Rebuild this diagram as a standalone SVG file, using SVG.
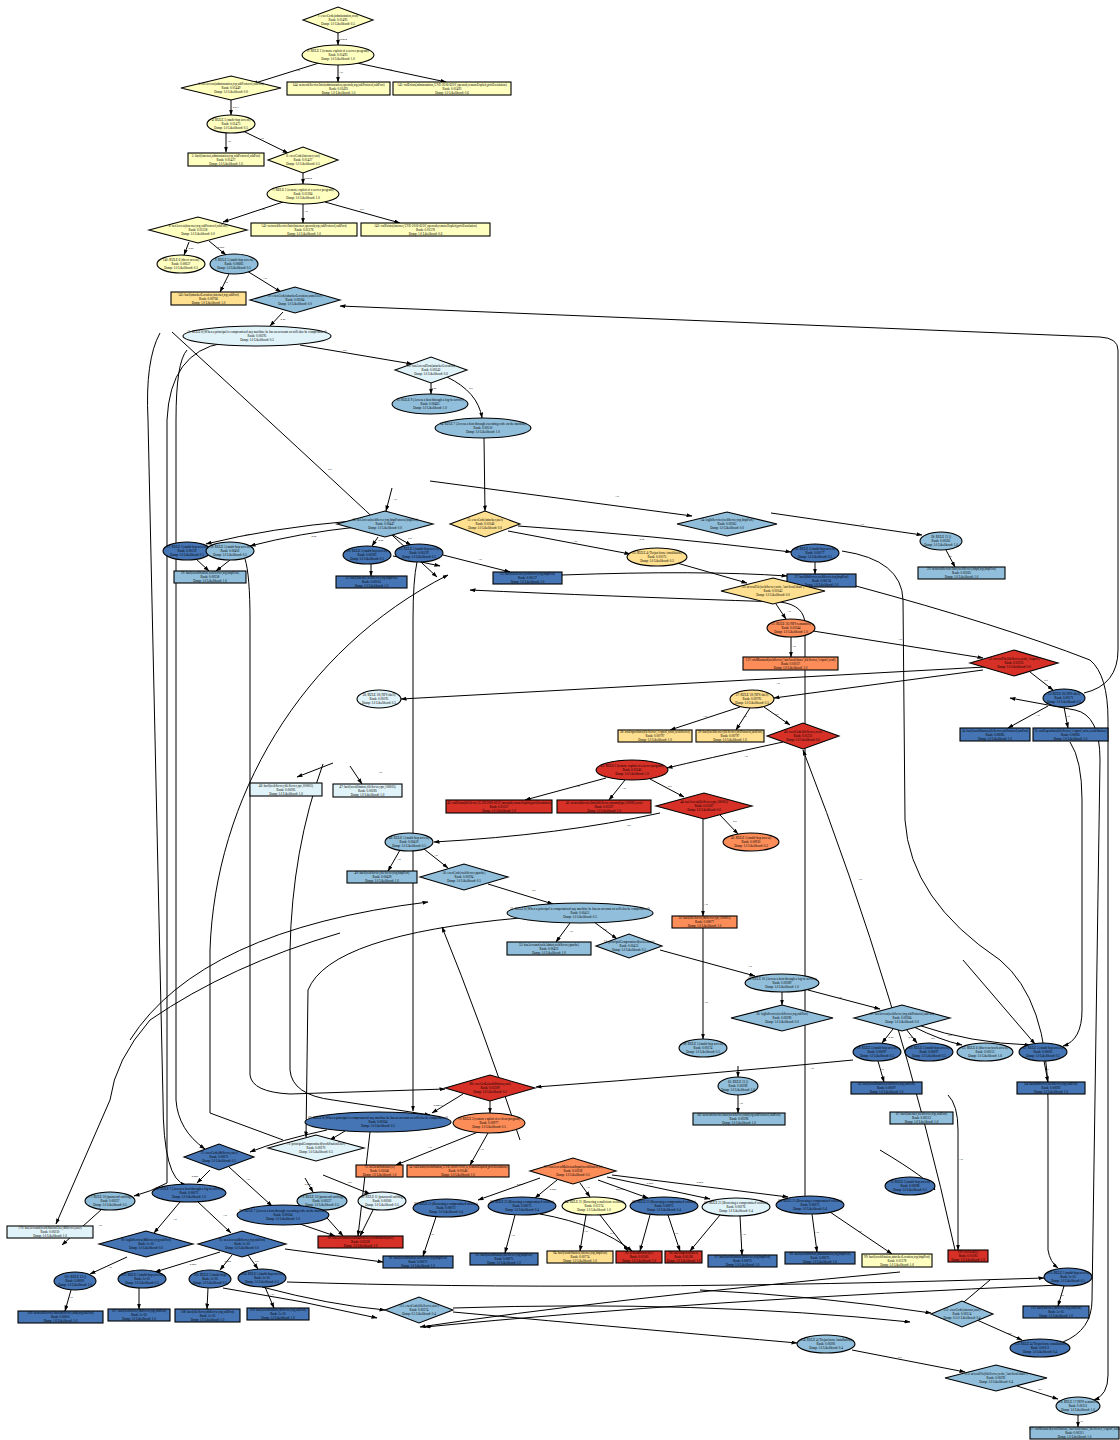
<svg xmlns="http://www.w3.org/2000/svg" width="1120" height="1440" viewBox="0 0 1120 1440">
<style>
text{font-family:"Liberation Serif","DejaVu Serif",serif;font-size:3.2px;text-anchor:middle;fill:#000}
.l{font-size:2.8px}
ellipse,rect,polygon{stroke:#000;stroke-width:1.1}
.y{fill:#ffffbf}.o{fill:#fee090}.or{fill:#fc8d59}.r{fill:#d73027}.p{fill:#e0f3f8}.m{fill:#91bfdb}.d{fill:#4575b4}
.e path{fill:none;stroke:#000;stroke-width:1}
.bg{fill:#fff;stroke:none}
</style>
<defs>
<marker id="a" markerWidth="6" markerHeight="4" refX="5.5" refY="2" orient="auto" markerUnits="userSpaceOnUse"><path d="M0,0 L6,2 L0,4 z" fill="#000"/></marker>
</defs>
<rect class="bg" width="1120" height="1440"/>
<g class="e" id="connectors">
<path d="M338,33 L338,45" marker-end="url(#a)"/>
<path d="M319,63 L252,84" marker-end="url(#a)"/>
<path d="M338,65 L338,82" marker-end="url(#a)"/>
<path d="M357,63 L446,82" marker-end="url(#a)"/>
<path d="M231,100 L231,115" marker-end="url(#a)"/>
<path d="M226,133 L226,152" marker-end="url(#a)"/>
<path d="M243,131 L288,153" marker-end="url(#a)"/>
<path d="M303,173 L303,184" marker-end="url(#a)"/>
<path d="M283,202 L223,222" marker-end="url(#a)"/>
<path d="M303,204 L303,223" marker-end="url(#a)"/>
<path d="M325,202 L400,223" marker-end="url(#a)"/>
<path d="M189,242 L184,255" marker-end="url(#a)"/>
<path d="M209,241 L226,255" marker-end="url(#a)"/>
<path d="M229,274 L220,292" marker-end="url(#a)"/>
<path d="M247,271 L281,292" marker-end="url(#a)"/>
<path d="M283,312 L270,326" marker-end="url(#a)"/>
<path d="M300,345 L412,364" marker-end="url(#a)"/>
<path d="M431,383 L431,394" marker-end="url(#a)"/>
<path d="M447,377 Q478,392 482,418" marker-end="url(#a)"/>
<path d="M484,438 L485,511" marker-end="url(#a)"/>
<path d="M1084,693 Q1118,685 1118,650 L1118,350 Q1118,338 1100,337 L340,306" marker-end="url(#a)"/>
<path d="M392,488 L386,511" marker-end="url(#a)"/>
<path d="M430,481 L692,516" marker-end="url(#a)"/>
<path d="M771,513 L922,535" marker-end="url(#a)"/>
<path d="M946,550 L955,567" marker-end="url(#a)"/>
<path d="M352,521 Q270,528 206,544" marker-end="url(#a)"/>
<path d="M357,527 Q300,533 250,546" marker-end="url(#a)"/>
<path d="M378,537 L372,546" marker-end="url(#a)"/>
<path d="M393,535 L411,545" marker-end="url(#a)"/>
<path d="M371,564 L371,576" marker-end="url(#a)"/>
<path d="M196,559 L209,571" marker-end="url(#a)"/>
<path d="M230,560 L216,571" marker-end="url(#a)"/>
<path d="M443,555 L510,572" marker-end="url(#a)"/>
<path d="M393,556 L440,566" marker-end="url(#a)"/>
<path d="M172,332 Q290,440 437,577" marker-end="url(#a)"/>
<path d="M518,526 Q650,535 791,552" marker-end="url(#a)"/>
<path d="M508,531 L630,554" marker-end="url(#a)"/>
<path d="M677,563 L747,583" marker-end="url(#a)"/>
<path d="M815,562 L815,574" marker-end="url(#a)"/>
<path d="M562,575 Q700,570 787,576" marker-end="url(#a)"/>
<path d="M856,586 Q1000,625 1090,660 Q1108,675 1108,720 L1108,1375 Q1108,1395 1094,1400" marker-end="url(#a)"/>
<path d="M805,1196 L805,625 Q805,605 780,602 Q600,596 470,590" marker-end="url(#a)"/>
<path d="M776,604 L786,619" marker-end="url(#a)"/>
<path d="M791,637 L791,657" marker-end="url(#a)"/>
<path d="M813,631 L983,658" marker-end="url(#a)"/>
<path d="M1030,672 L1053,690" marker-end="url(#a)"/>
<path d="M985,667 L401,699" marker-end="url(#a)"/>
<path d="M983,670 L774,698" marker-end="url(#a)"/>
<path d="M740,707 L670,730" marker-end="url(#a)"/>
<path d="M750,708 L736,730" marker-end="url(#a)"/>
<path d="M764,707 L790,725" marker-end="url(#a)"/>
<path d="M783,742 Q700,760 667,768" marker-end="url(#a)"/>
<path d="M606,778 L525,800" marker-end="url(#a)"/>
<path d="M625,780 L609,800" marker-end="url(#a)"/>
<path d="M650,779 L684,797" marker-end="url(#a)"/>
<path d="M720,815 L738,834" marker-end="url(#a)"/>
<path d="M703,819 L703,916" marker-end="url(#a)"/>
<path d="M660,813 Q560,835 434,842" marker-end="url(#a)"/>
<path d="M1048,706 L1008,728" marker-end="url(#a)"/>
<path d="M1064,707 L1068,728" marker-end="url(#a)"/>
<path d="M955,1250 Q900,1000 803,750" marker-end="url(#a)"/>
<path d="M400,850 L388,871" marker-end="url(#a)"/>
<path d="M424,849 L448,868" marker-end="url(#a)"/>
<path d="M488,884 L553,904" marker-end="url(#a)"/>
<path d="M570,923 L556,942" marker-end="url(#a)"/>
<path d="M594,922 L617,939" marker-end="url(#a)"/>
<path d="M660,950 L755,976" marker-end="url(#a)"/>
<path d="M782,992 L782,1005" marker-end="url(#a)"/>
<path d="M808,990 L880,1009" marker-end="url(#a)"/>
<path d="M893,1029 L882,1043" marker-end="url(#a)"/>
<path d="M906,1029 L917,1043" marker-end="url(#a)"/>
<path d="M914,1027 Q940,1040 962,1045" marker-end="url(#a)"/>
<path d="M918,1025 Q970,1043 1030,1045" marker-end="url(#a)"/>
<path d="M878,1061 L884,1082" marker-end="url(#a)"/>
<path d="M1044,1061 L1048,1082" marker-end="url(#a)"/>
<path d="M853,1060 Q700,1075 536,1087" marker-end="url(#a)"/>
<path d="M703,928 L703,1039" marker-end="url(#a)"/>
<path d="M738,1066 L738,1077" marker-end="url(#a)"/>
<path d="M738,1095 L738,1113" marker-end="url(#a)"/>
<path d="M963,960 L1035,1044" marker-end="url(#a)"/>
<path d="M1070,742 Q1082,760 1082,800 L1082,1010 Q1082,1040 1063,1046" marker-end="url(#a)"/>
<path d="M842,551 Q902,560 903,600 L905,820 Q910,900 1000,960 Q1048,1000 1048,1100 L1048,1250 Q1050,1262 1058,1268" marker-end="url(#a)"/>
<path d="M1063,1342 Q1092,1330 1092,1300 L1100,760 Q1100,715 1075,710 L1010,698" marker-end="url(#a)"/>
<path d="M160,333 Q145,360 148,420 L163,1100 Q163,1180 186,1185" marker-end="url(#a)"/>
<path d="M223,343 Q170,352 167,420 L167,1183 Q150,1192 134,1196" marker-end="url(#a)"/>
<path d="M187,350 Q176,362 176,420 L176,1100 Q178,1130 205,1149" marker-end="url(#a)"/>
<path d="M283,1140 L210,1113 L210,950 C215,800 300,650 448,575" marker-end="url(#a)"/>
<path d="M245,559 Q250,575 250,620 L250,1075 Q252,1092 290,1094 L445,1089" marker-end="url(#a)"/>
<path d="M323,764 Q292,850 290,950 L290,1070 Q292,1095 333,1100 L430,1115" marker-end="url(#a)"/>
<path d="M333,763 L297,777" marker-end="url(#a)"/>
<path d="M350,766 L362,784" marker-end="url(#a)"/>
<path d="M417,562 Q413,580 413,620 L413,1111" marker-end="url(#a)"/>
<path d="M340,933 Q230,965 150,1020 Q115,1060 110,1100 L56,1224" marker-end="url(#a)"/>
<path d="M130,1040 Q200,930 428,902" marker-end="url(#a)"/>
<path d="M520,918 Q330,935 308,990 L306,1137" marker-end="url(#a)"/>
<path d="M520,1140 Q480,1020 442,927" marker-end="url(#a)"/>
<path d="M210,1170 L197,1183" marker-end="url(#a)"/>
<path d="M229,1167 L272,1206" marker-end="url(#a)"/>
<path d="M180,1202 L154,1233" marker-end="url(#a)"/>
<path d="M198,1202 L231,1233" marker-end="url(#a)"/>
<path d="M220,1252 L155,1272" marker-end="url(#a)"/>
<path d="M232,1255 L220,1270" marker-end="url(#a)"/>
<path d="M248,1255 L258,1269" marker-end="url(#a)"/>
<path d="M127,1257 L90,1274" marker-end="url(#a)"/>
<path d="M71,1290 L65,1311" marker-end="url(#a)"/>
<path d="M139,1288 L139,1309" marker-end="url(#a)"/>
<path d="M208,1288 L207,1309" marker-end="url(#a)"/>
<path d="M265,1287 L274,1308" marker-end="url(#a)"/>
<path d="M223,1288 Q300,1300 377,1318" marker-end="url(#a)"/>
<path d="M287,1282 Q600,1292 1044,1278" marker-end="url(#a)"/>
<path d="M285,1249 L383,1262" marker-end="url(#a)"/>
<path d="M327,1130 Q280,1140 250,1152" marker-end="url(#a)"/>
<path d="M305,1178 L313,1192" marker-end="url(#a)"/>
<path d="M323,1175 L370,1194" marker-end="url(#a)"/>
<path d="M320,1210 L343,1236" marker-end="url(#a)"/>
<path d="M373,1210 L360,1236" marker-end="url(#a)"/>
<path d="M370,1132 L358,1236" marker-end="url(#a)"/>
<path d="M102,1209 L62,1245" marker-end="url(#a)"/>
<path d="M436,1217 L423,1256" marker-end="url(#a)"/>
<path d="M540,1178 L478,1200" marker-end="url(#a)"/>
<path d="M557,1180 L535,1198" marker-end="url(#a)"/>
<path d="M580,1183 L590,1197" marker-end="url(#a)"/>
<path d="M598,1180 L648,1198" marker-end="url(#a)"/>
<path d="M607,1177 L710,1199" marker-end="url(#a)"/>
<path d="M612,1175 L788,1197" marker-end="url(#a)"/>
<path d="M515,1215 L505,1253" marker-end="url(#a)"/>
<path d="M586,1215 L580,1251" marker-end="url(#a)"/>
<path d="M600,1215 L628,1251" marker-end="url(#a)"/>
<path d="M540,1214 Q600,1225 632,1251" marker-end="url(#a)"/>
<path d="M650,1215 L640,1251" marker-end="url(#a)"/>
<path d="M668,1215 L680,1251" marker-end="url(#a)"/>
<path d="M720,1215 L690,1251" marker-end="url(#a)"/>
<path d="M740,1216 L742,1255" marker-end="url(#a)"/>
<path d="M812,1214 L817,1252" marker-end="url(#a)"/>
<path d="M830,1212 L892,1254" marker-end="url(#a)"/>
<path d="M948,1095 Q958,1105 958,1130 L958,1250" marker-end="url(#a)"/>
<path d="M478,1132 L396,1165" marker-end="url(#a)"/>
<path d="M488,1133 L470,1165" marker-end="url(#a)"/>
<path d="M490,1101 L490,1113" marker-end="url(#a)"/>
<path d="M463,1094 L432,1113" marker-end="url(#a)"/>
<path d="M345,1131 L330,1140" marker-end="url(#a)"/>
<path d="M300,1224 L335,1236" marker-end="url(#a)"/>
<path d="M262,1287 Q330,1305 385,1310" marker-end="url(#a)"/>
<path d="M1060,1285 Q700,1300 425,1327" marker-end="url(#a)"/>
<path d="M900,1272 Q600,1300 420,1327" marker-end="url(#a)"/>
<path d="M453,1312 Q650,1330 797,1343" marker-end="url(#a)"/>
<path d="M453,1308 Q700,1300 910,1322" marker-end="url(#a)"/>
<path d="M700,1290 Q820,1296 931,1313" marker-end="url(#a)"/>
<path d="M990,1280 L952,1312" marker-end="url(#a)"/>
<path d="M977,1320 L1022,1340" marker-end="url(#a)"/>
<path d="M852,1350 L965,1372" marker-end="url(#a)"/>
<path d="M1017,1386 L1058,1399" marker-end="url(#a)"/>
<path d="M1078,1415 L1078,1427" marker-end="url(#a)"/>
<path d="M1064,1286 L1058,1306" marker-end="url(#a)"/>
<path d="M880,1150 Q930,1180 935,1190" marker-end="url(#a)"/>
</g>
<g id="edge-labels">
<text class="l" x="343" y="40">0.0094</text><text class="l" x="298" y="71">1.0</text><text class="l" x="341" y="73">1.0</text><text class="l" x="390" y="70">0.5</text>
<text class="l" x="236" y="108">0.013</text><text class="l" x="229" y="142">1.0</text><text class="l" x="262" y="139">1.0</text><text class="l" x="308" y="179">0.0094</text>
<text class="l" x="263" y="210">1.0</text><text class="l" x="306" y="212">1.0</text><text class="l" x="362" y="210">0.5</text><text class="l" x="191" y="249">0.05</text>
<text class="l" x="221" y="248">0.025</text><text class="l" x="226" y="283">1.0</text><text class="l" x="265" y="279">1.0</text><text class="l" x="283" y="320">0.05</text>
<text class="l" x="345" y="351">0.5</text><text class="l" x="434" y="389">0.05</text><text class="l" x="471" y="389">0.5</text>
<text class="l" x="395" y="500">1.0</text><text class="l" x="617" y="497">1.0</text><text class="l" x="862" y="525">1.0</text><text class="l" x="950" y="557">1.0</text>
<text class="l" x="248" y="535">0.05</text><text class="l" x="314" y="537">0.05</text><text class="l" x="381" y="541">0.05</text><text class="l" x="410" y="539">0.5</text>
<text class="l" x="480" y="560">1.0</text><text class="l" x="330" y="470">0.5</text><text class="l" x="642" y="540">0.05</text><text class="l" x="575" y="542">1.0</text>
<text class="l" x="712" y="573">1.0</text><text class="l" x="789" y="612">1.0</text><text class="l" x="794" y="647">1.0</text><text class="l" x="900" y="640">1.0</text>
<text class="l" x="1046" y="681">0.5</text><text class="l" x="778" y="684">1.0</text><text class="l" x="705" y="717">1.0</text><text class="l" x="745" y="717">1.0</text>
<text class="l" x="777" y="715">0.5</text><text class="l" x="746" y="757">1.0</text><text class="l" x="578" y="787">1.0</text><text class="l" x="624" y="789">1.0</text>
<text class="l" x="670" y="787">0.5</text><text class="l" x="735" y="822">0.5</text><text class="l" x="706" y="905">1.0</text><text class="l" x="629" y="826">0.5</text>
<text class="l" x="1038" y="716">1.0</text><text class="l" x="1068" y="717">1.0</text><text class="l" x="860" y="880">1.0</text><text class="l" x="399" y="860">1.0</text>
<text class="l" x="436" y="856">1.0</text><text class="l" x="534" y="891">0.5</text><text class="l" x="571" y="932">1.0</text><text class="l" x="605" y="930">0.5</text>
<text class="l" x="750" y="967">1.0</text><text class="l" x="840" y="998">1.0</text><text class="l" x="891" y="1038">0.05</text><text class="l" x="911" y="1038">0.05</text>
<text class="l" x="933" y="1039">0.5</text><text class="l" x="950" y="1036">0.5</text><text class="l" x="882" y="1070">1.0</text><text class="l" x="1047" y="1070">1.0</text>
<text class="l" x="812" y="1069">1.0</text><text class="l" x="706" y="1003">1.0</text><text class="l" x="741" y="1104">1.0</text><text class="l" x="380" y="773">1.0</text>
<text class="l" x="195" y="1177">0.005</text><text class="l" x="248" y="1180">1.0</text><text class="l" x="175" y="1220">1.0</text><text class="l" x="225" y="1216">1.0</text>
<text class="l" x="193" y="1265">0.005</text><text class="l" x="228" y="1262">0.005</text><text class="l" x="257" y="1262">0.5</text><text class="l" x="110" y="1268">1.0</text>
<text class="l" x="71" y="1298">1.0</text><text class="l" x="272" y="1295">1.0</text><text class="l" x="308" y="1185">0.005</text><text class="l" x="350" y="1183">0.5</text>
<text class="l" x="100" y="1226">1.0</text><text class="l" x="432" y="1235">1.0</text><text class="l" x="520" y="1185">0.005</text><text class="l" x="553" y="1190">0.005</text>
<text class="l" x="588" y="1188">1.0</text><text class="l" x="620" y="1190">0.0375</text><text class="l" x="650" y="1184">0.005</text><text class="l" x="700" y="1183">0.005</text>
<text class="l" x="513" y="1236">1.0</text><text class="l" x="586" y="1232">1.0</text><text class="l" x="612" y="1234">0.5</text><text class="l" x="676" y="1234">1.0</text>
<text class="l" x="744" y="1235">1.0</text><text class="l" x="817" y="1233">1.0</text><text class="l" x="860" y="1232">0.5</text><text class="l" x="961" y="1160">1.0</text>
<text class="l" x="430" y="1148">1.0</text><text class="l" x="482" y="1150">1.0</text><text class="l" x="438" y="1106">0.00076</text><text class="l" x="1010" y="1334">0.5</text>
<text class="l" x="900" y="1358">0.5</text><text class="l" x="1040" y="1390">0.5</text><text class="l" x="1081" y="1422">1.0</text><text class="l" x="1062" y="1296">1.0</text>
</g>
<g id="n1"><polygon class="y" points="303,20 338,7 373,20 338,33"/><text x="338" y="17"><tspan x="338">1: execCode(adminstation,root)</tspan><tspan x="338" dy="4">Rank: 0.01493</tspan><tspan x="338" dy="4">Dsmp: 1.0 Likelihood: 0.5</tspan></text></g>
<g id="n2"><ellipse class="y" cx="338" cy="55" rx="36" ry="10"/><text x="338" y="52"><tspan x="338">2: RULE 2 (remote exploit of a server program)</tspan><tspan x="338" dy="4">Rank: 0.01493</tspan><tspan x="338" dy="4">Dsmp: 1.0 Likelihood: 1.0</tspan></text></g>
<g id="n3"><polygon class="y" points="181,88 231,76 281,88 231,100"/><text x="231" y="85"><tspan x="231">3: netAccess(adminstation,tcp,sshProtocol,sshPort)</tspan><tspan x="231" dy="4">Rank: 0.01449</tspan><tspan x="231" dy="4">Dsmp: 1.0 Likelihood: 0.0</tspan></text></g>
<g id="n4"><rect class="y" x="287" y="82" width="103" height="13"/><text x="338.5" y="85.5"><tspan x="338.5">144: networkServiceInfo(adminstation,openssh,tcp,sshProtocol,sshPort)</tspan><tspan x="338.5" dy="4">Rank: 0.01493</tspan><tspan x="338.5" dy="4">Dsmp: 1.0 Likelihood: 1.0</tspan></text></g>
<g id="n5"><rect class="y" x="393" y="82" width="118" height="13"/><text x="452" y="85.5"><tspan x="452">145: vulExists(adminstation,'CVE-2016-6210',openssh,remoteExploit,privEscalation)</tspan><tspan x="452" dy="4">Rank: 0.01493</tspan><tspan x="452" dy="4">Dsmp: 1.0 Likelihood: 0.6</tspan></text></g>
<g id="n6"><ellipse class="y" cx="231" cy="124" rx="24" ry="9"/><text x="231" y="121"><tspan x="231">4: RULE 5 (multi-hop access)</tspan><tspan x="231" dy="4">Rank: 0.01473</tspan><tspan x="231" dy="4">Dsmp: 1.0 Likelihood: 0.5</tspan></text></g>
<g id="n7"><rect class="y" x="188" y="153" width="76" height="13"/><text x="226" y="156.5"><tspan x="226">5: hacl(internet,adminstation,tcp,sshProtocol,sshPort)</tspan><tspan x="226" dy="4">Rank: 0.01427</tspan><tspan x="226" dy="4">Dsmp: 1.0 Likelihood: 1.0</tspan></text></g>
<g id="n8"><polygon class="y" points="268,160 303,147 338,160 303,173"/><text x="303" y="157"><tspan x="303">6: execCode(internet,root)</tspan><tspan x="303" dy="4">Rank: 0.01427</tspan><tspan x="303" dy="4">Dsmp: 1.0 Likelihood: 0.5</tspan></text></g>
<g id="n9"><ellipse class="y" cx="303" cy="194" rx="36" ry="10"/><text x="303" y="191"><tspan x="303">7: RULE 2 (remote exploit of a server program)</tspan><tspan x="303" dy="4">Rank: 0.01384</tspan><tspan x="303" dy="4">Dsmp: 1.0 Likelihood: 1.0</tspan></text></g>
<g id="n10"><polygon class="y" points="149,230 198,217 247,230 198,243"/><text x="198" y="227"><tspan x="198">8: netAccess(internet,tcp,sshProtocol,sshPort)</tspan><tspan x="198" dy="4">Rank: 0.01358</tspan><tspan x="198" dy="4">Dsmp: 1.0 Likelihood: 0.0</tspan></text></g>
<g id="n11"><rect class="y" x="251" y="223" width="106" height="13"/><text x="304" y="226.5"><tspan x="304">142: networkServiceInfo(internet,openssh,tcp,sshProtocol,sshPort)</tspan><tspan x="304" dy="4">Rank: 0.01378</tspan><tspan x="304" dy="4">Dsmp: 1.0 Likelihood: 1.0</tspan></text></g>
<g id="n12"><rect class="y" x="361" y="223" width="129" height="13"/><text x="425.5" y="226.5"><tspan x="425.5">143: vulExists(internet,'CVE-2016-6210',openssh,remoteExploit,privEscalation)</tspan><tspan x="425.5" dy="4">Rank: 0.01378</tspan><tspan x="425.5" dy="4">Dsmp: 1.0 Likelihood: 0.6</tspan></text></g>
<g id="n13"><ellipse class="y" cx="181" cy="264" rx="24" ry="9"/><text x="181" y="261"><tspan x="181">140: RULE 6 (direct access)</tspan><tspan x="181" dy="4">Rank: 0.00637</tspan><tspan x="181" dy="4">Dsmp: 1.0 Likelihood: 0.5</tspan></text></g>
<g id="n14"><ellipse class="m" cx="234" cy="264" rx="24" ry="10"/><text x="234" y="261"><tspan x="234">9: RULE 5 (multi-hop access)</tspan><tspan x="234" dy="4">Rank: 0.00683</tspan><tspan x="234" dy="4">Dsmp: 1.0 Likelihood: 0.5</tspan></text></g>
<g id="n15"><rect class="o" x="171" y="292" width="75" height="13"/><text x="208.5" y="295.5"><tspan x="208.5">141: hacl(attackerLocation,internet,tcp,sshPort)</tspan><tspan x="208.5" dy="4">Rank: 0.00766</tspan><tspan x="208.5" dy="4">Dsmp: 1.0 Likelihood: 1.0</tspan></text></g>
<g id="n16"><polygon class="m" points="250,300 295,287 340,300 295,313"/><text x="295" y="297"><tspan x="295">10: execCode(attackerLocation,someUser)</tspan><tspan x="295" dy="4">Rank: 0.00584</tspan><tspan x="295" dy="4">Dsmp: 1.0 Likelihood: 0.0</tspan></text></g>
<g id="n17"><ellipse class="p" cx="257" cy="336" rx="74" ry="10"/><text x="257" y="333"><tspan x="257">11: RULE 8 (When a principal is compromised any machine he has an account on will also be compromised)</tspan><tspan x="257" dy="4">Rank: 0.00295</tspan><tspan x="257" dy="4">Dsmp: 1.0 Likelihood: 0.5</tspan></text></g>
<g id="n18"><polygon class="p" points="395,370 431,357 467,370 431,383"/><text x="431" y="367"><tspan x="431">12: canAccessHost(attackerLocation)</tspan><tspan x="431" dy="4">Rank: 0.00242</tspan><tspan x="431" dy="4">Dsmp: 1.0 Likelihood: 0.0</tspan></text></g>
<g id="n19"><ellipse class="m" cx="430" cy="404" rx="38" ry="10"/><text x="430" y="401"><tspan x="430">13: RULE 9 (Access a host through a log-in service)</tspan><tspan x="430" dy="4">Rank: 0.00463</tspan><tspan x="430" dy="4">Dsmp: 1.0 Likelihood: 1.0</tspan></text></g>
<g id="n20"><ellipse class="m" cx="483" cy="428" rx="48" ry="10"/><text x="483" y="425"><tspan x="483">14: RULE 7 (Access a host through executing code on the machine)</tspan><tspan x="483" dy="4">Rank: 0.00510</tspan><tspan x="483" dy="4">Dsmp: 1.0 Likelihood: 1.0</tspan></text></g>
<g id="n21"><polygon class="o" points="450,524 485,511 520,524 485,537"/><text x="485" y="521"><tspan x="485">15: execCode(attacker,user)</tspan><tspan x="485" dy="4">Rank: 0.01046</tspan><tspan x="485" dy="4">Dsmp: 1.0 Likelihood: 0.0</tspan></text></g>
<g id="n22"><polygon class="m" points="337,524 385,511 433,524 385,537"/><text x="385" y="521"><tspan x="385">16: netAccess(webServer,tcp,httpProtocol,httpPort)</tspan><tspan x="385" dy="4">Rank: 0.00447</tspan><tspan x="385" dy="4">Dsmp: 1.0 Likelihood: 0.0</tspan></text></g>
<g id="n23"><ellipse class="d" cx="187" cy="551" rx="24" ry="9"/><text x="187" y="548"><tspan x="187">17: RULE 5 (multi-hop access)</tspan><tspan x="187" dy="4">Rank: 0.00159</tspan><tspan x="187" dy="4">Dsmp: 1.0 Likelihood: 0.5</tspan></text></g>
<g id="n24"><ellipse class="m" cx="230" cy="551" rx="24" ry="9"/><text x="230" y="548"><tspan x="230">18: RULE 5 (multi-hop access)</tspan><tspan x="230" dy="4">Rank: 0.00450</tspan><tspan x="230" dy="4">Dsmp: 1.0 Likelihood: 0.5</tspan></text></g>
<g id="n25"><rect class="m" x="174" y="571" width="72" height="12"/><text x="210" y="574"><tspan x="210">19: hacl(workStation,webServer,tcp,httpPort)</tspan><tspan x="210" dy="4">Rank: 0.00358</tspan><tspan x="210" dy="4">Dsmp: 1.0 Likelihood: 1.0</tspan></text></g>
<g id="n26"><ellipse class="d" cx="367" cy="555" rx="24" ry="9"/><text x="367" y="552"><tspan x="367">20: RULE 5 (multi-hop access)</tspan><tspan x="367" dy="4">Rank: 0.00183</tspan><tspan x="367" dy="4">Dsmp: 1.0 Likelihood: 0.5</tspan></text></g>
<g id="n27"><ellipse class="d" cx="419" cy="553" rx="24" ry="9"/><text x="419" y="550"><tspan x="419">21: RULE 5 (multi-hop access)</tspan><tspan x="419" dy="4">Rank: 0.00159</tspan><tspan x="419" dy="4">Dsmp: 1.0 Likelihood: 0.5</tspan></text></g>
<g id="n28"><rect class="d" x="336" y="576" width="71" height="12"/><text x="371.5" y="579"><tspan x="371.5">22: hacl(internet,webServer,tcp,httpPort)</tspan><tspan x="371.5" dy="4">Rank: 0.00163</tspan><tspan x="371.5" dy="4">Dsmp: 1.0 Likelihood: 1.0</tspan></text></g>
<g id="n29"><rect class="d" x="493" y="572" width="69" height="12"/><text x="527.5" y="575"><tspan x="527.5">23: hacl(fileServer,webServer,tcp,httpPort)</tspan><tspan x="527.5" dy="4">Rank: 0.00137</tspan><tspan x="527.5" dy="4">Dsmp: 1.0 Likelihood: 1.0</tspan></text></g>
<g id="n30"><polygon class="m" points="677,524 727,512 777,524 727,536"/><text x="727" y="521"><tspan x="727">24: logInService(webServer,tcp,httpPort)</tspan><tspan x="727" dy="4">Rank: 0.00365</tspan><tspan x="727" dy="4">Dsmp: 1.0 Likelihood: 0.0</tspan></text></g>
<g id="n31"><ellipse class="o" cx="657" cy="557" rx="30" ry="9"/><text x="657" y="554"><tspan x="657">25: RULE 4 (Trojan horse installation)</tspan><tspan x="657" dy="4">Rank: 0.01075</tspan><tspan x="657" dy="4">Dsmp: 1.0 Likelihood: 0.5</tspan></text></g>
<g id="n32"><ellipse class="d" cx="815" cy="553" rx="24" ry="9"/><text x="815" y="550"><tspan x="815">26: RULE 5 (multi-hop access)</tspan><tspan x="815" dy="4">Rank: 0.00177</tspan><tspan x="815" dy="4">Dsmp: 1.0 Likelihood: 0.5</tspan></text></g>
<g id="n33"><rect class="d" x="787" y="574" width="69" height="13"/><text x="821.5" y="577.5"><tspan x="821.5">27: hacl(dbServer,webServer,tcp,httpPort)</tspan><tspan x="821.5" dy="4">Rank: 0.00174</tspan><tspan x="821.5" dy="4">Dsmp: 1.0 Likelihood: 1.0</tspan></text></g>
<g id="n34"><ellipse class="m" cx="941" cy="541" rx="21" ry="9"/><text x="941" y="538"><tspan x="941">28: RULE 13 ()</tspan><tspan x="941" dy="4">Rank: 0.00365</tspan><tspan x="941" dy="4">Dsmp: 1.0 Likelihood: 1.0</tspan></text></g>
<g id="n35"><rect class="m" x="918" y="567" width="87" height="12"/><text x="961.5" y="570"><tspan x="961.5">29: networkServiceInfo(webServer,httpd,tcp,httpPort)</tspan><tspan x="961.5" dy="4">Rank: 0.00365</tspan><tspan x="961.5" dy="4">Dsmp: 1.0 Likelihood: 1.0</tspan></text></g>
<g id="n36"><polygon class="o" points="721,591 773,578 825,591 773,604"/><text x="773" y="588"><tspan x="773">30: accessFile(webServer,write,'/usr/local/share')</tspan><tspan x="773" dy="4">Rank: 0.01045</tspan><tspan x="773" dy="4">Dsmp: 1.0 Likelihood: 0.0</tspan></text></g>
<g id="n37"><ellipse class="or" cx="791" cy="628" rx="24" ry="9"/><text x="791" y="625"><tspan x="791">31: RULE 16 (NFS semantics)</tspan><tspan x="791" dy="4">Rank: 0.01044</tspan><tspan x="791" dy="4">Dsmp: 1.0 Likelihood: 1.0</tspan></text></g>
<g id="n38"><rect class="or" x="743" y="657" width="95" height="13"/><text x="790.5" y="660.5"><tspan x="790.5">137: nfsMounted(webServer,'/usr/local/share',fileServer,'/export',read)</tspan><tspan x="790.5" dy="4">Rank: 0.01037</tspan><tspan x="790.5" dy="4">Dsmp: 1.0 Likelihood: 1.0</tspan></text></g>
<g id="n39"><polygon class="r" points="970,663 1014,650 1058,663 1014,676"/><text x="1014" y="660"><tspan x="1014">32: accessFile(fileServer,write,'/export')</tspan><tspan x="1014" dy="4">Rank: 0.01253</tspan><tspan x="1014" dy="4">Dsmp: 1.0 Likelihood: 0.0</tspan></text></g>
<g id="n40"><ellipse class="d" cx="1064" cy="698" rx="21" ry="9"/><text x="1064" y="695"><tspan x="1064">33: RULE 18 (NFS shell)</tspan><tspan x="1064" dy="4">Rank: 0.00171</tspan><tspan x="1064" dy="4">Dsmp: 1.0 Likelihood: 0.5</tspan></text></g>
<g id="n41"><rect class="d" x="960" y="728" width="70" height="13"/><text x="995" y="731.5"><tspan x="995">34: hacl(workStation,fileServer,nfsProtocol,nfsPort)</tspan><tspan x="995" dy="4">Rank: 0.00085</tspan><tspan x="995" dy="4">Dsmp: 1.0 Likelihood: 1.0</tspan></text></g>
<g id="n42"><rect class="d" x="1033" y="728" width="75" height="13"/><text x="1070.5" y="731.5"><tspan x="1070.5">35: nfsExportInfo(fileServer,'/export',write,workStation)</tspan><tspan x="1070.5" dy="4">Rank: 0.00085</tspan><tspan x="1070.5" dy="4">Dsmp: 1.0 Likelihood: 1.0</tspan></text></g>
<g id="n43"><ellipse class="p" cx="379" cy="699" rx="22" ry="9"/><text x="379" y="696"><tspan x="379">36: RULE 18 (NFS shell)</tspan><tspan x="379" dy="4">Rank: 0.00295</tspan><tspan x="379" dy="4">Dsmp: 1.0 Likelihood: 0.5</tspan></text></g>
<g id="n44"><ellipse class="o" cx="752" cy="699" rx="22" ry="9"/><text x="752" y="696"><tspan x="752">37: RULE 18 (NFS shell)</tspan><tspan x="752" dy="4">Rank: 0.00795</tspan><tspan x="752" dy="4">Dsmp: 1.0 Likelihood: 0.5</tspan></text></g>
<g id="n45"><rect class="o" x="618" y="730" width="74" height="12"/><text x="655" y="733"><tspan x="655">38: nfsExportInfo(fileServer,'/export',write,webServer)</tspan><tspan x="655" dy="4">Rank: 0.00797</tspan><tspan x="655" dy="4">Dsmp: 1.0 Likelihood: 1.0</tspan></text></g>
<g id="n46"><rect class="o" x="696" y="730" width="68" height="12"/><text x="730" y="733"><tspan x="730">39: hacl(webServer,fileServer,nfsProtocol,nfsPort)</tspan><tspan x="730" dy="4">Rank: 0.00797</tspan><tspan x="730" dy="4">Dsmp: 1.0 Likelihood: 1.0</tspan></text></g>
<g id="n47"><polygon class="r" points="767,736 803,723 839,736 803,749"/><text x="803" y="733"><tspan x="803">40: execCode(fileServer,root)</tspan><tspan x="803" dy="4">Rank: 0.01251</tspan><tspan x="803" dy="4">Dsmp: 1.0 Likelihood: 0.0</tspan></text></g>
<g id="n48"><ellipse class="r" cx="632" cy="770" rx="36" ry="10"/><text x="632" y="767"><tspan x="632">41: RULE 2 (remote exploit of a server program)</tspan><tspan x="632" dy="4">Rank: 0.01245</tspan><tspan x="632" dy="4">Dsmp: 1.0 Likelihood: 1.0</tspan></text></g>
<g id="n49"><rect class="r" x="446" y="800" width="106" height="13"/><text x="499" y="803.5"><tspan x="499">42: vulExists(fileServer,'CAN-2003-0252',mountd,remoteExploit,privEscalation)</tspan><tspan x="499" dy="4">Rank: 0.01327</tspan><tspan x="499" dy="4">Dsmp: 1.0 Likelihood: 1.0</tspan></text></g>
<g id="n50"><rect class="r" x="557" y="800" width="94" height="13"/><text x="604" y="803.5"><tspan x="604">43: networkServiceInfo(fileServer,mountd,rpc,100005,root)</tspan><tspan x="604" dy="4">Rank: 0.01327</tspan><tspan x="604" dy="4">Dsmp: 1.0 Likelihood: 1.0</tspan></text></g>
<g id="n51"><polygon class="r" points="656,806 704,793 752,806 704,819"/><text x="704" y="803"><tspan x="704">44: netAccess(fileServer,rpc,100005)</tspan><tspan x="704" dy="4">Rank: 0.01267</tspan><tspan x="704" dy="4">Dsmp: 1.0 Likelihood: 0.0</tspan></text></g>
<g id="n52"><ellipse class="or" cx="751" cy="842" rx="28" ry="9"/><text x="751" y="839"><tspan x="751">45: RULE 5 (multi-hop access)</tspan><tspan x="751" dy="4">Rank: 0.00930</tspan><tspan x="751" dy="4">Dsmp: 1.0 Likelihood: 0.5</tspan></text></g>
<g id="n53"><rect class="p" x="250" y="783" width="72" height="13"/><text x="286" y="786.5"><tspan x="286">46: hacl(webServer,fileServer,rpc,100005)</tspan><tspan x="286" dy="4">Rank: 0.00285</tspan><tspan x="286" dy="4">Dsmp: 1.0 Likelihood: 1.0</tspan></text></g>
<g id="n54"><rect class="p" x="333" y="784" width="69" height="13"/><text x="367.5" y="787.5"><tspan x="367.5">47: hacl(workStation,fileServer,rpc,100005)</tspan><tspan x="367.5" dy="4">Rank: 0.00285</tspan><tspan x="367.5" dy="4">Dsmp: 1.0 Likelihood: 1.0</tspan></text></g>
<g id="n55"><ellipse class="m" cx="409" cy="842" rx="24" ry="9"/><text x="409" y="839"><tspan x="409">48: RULE 5 (multi-hop access)</tspan><tspan x="409" dy="4">Rank: 0.00419</tspan><tspan x="409" dy="4">Dsmp: 1.0 Likelihood: 0.5</tspan></text></g>
<g id="n56"><rect class="m" x="347" y="871" width="70" height="12"/><text x="382" y="874"><tspan x="382">49: hacl(webServer,fileServer,tcp,httpPort)</tspan><tspan x="382" dy="4">Rank: 0.00428</tspan><tspan x="382" dy="4">Dsmp: 1.0 Likelihood: 1.0</tspan></text></g>
<g id="n57"><polygon class="m" points="420,877 464,864 508,877 464,890"/><text x="464" y="874"><tspan x="464">50: execCode(webServer,apache)</tspan><tspan x="464" dy="4">Rank: 0.00394</tspan><tspan x="464" dy="4">Dsmp: 1.0 Likelihood: 0.5</tspan></text></g>
<g id="n58"><ellipse class="m" cx="580" cy="913" rx="73" ry="10"/><text x="580" y="910"><tspan x="580">51: RULE 8 (When a principal is compromised any machine he has an account on will also be compromised)</tspan><tspan x="580" dy="4">Rank: 0.00413</tspan><tspan x="580" dy="4">Dsmp: 1.0 Likelihood: 0.5</tspan></text></g>
<g id="n59"><rect class="or" x="672" y="916" width="65" height="12"/><text x="704.5" y="919"><tspan x="704.5">52: hacl(fileServer,dbServer,rpc,100005)</tspan><tspan x="704.5" dy="4">Rank: 0.00877</tspan><tspan x="704.5" dy="4">Dsmp: 1.0 Likelihood: 1.0</tspan></text></g>
<g id="n60"><rect class="m" x="507" y="942" width="84" height="13"/><text x="549" y="945.5"><tspan x="549">53: hasAccount(webAdmin,webServer,apache)</tspan><tspan x="549" dy="4">Rank: 0.00423</tspan><tspan x="549" dy="4">Dsmp: 1.0 Likelihood: 1.0</tspan></text></g>
<g id="n61"><polygon class="m" points="596,946 629,934 662,946 629,958"/><text x="629" y="943"><tspan x="629">54: principalCompromised(webAdmin)</tspan><tspan x="629" dy="4">Rank: 0.00413</tspan><tspan x="629" dy="4">Dsmp: 1.0 Likelihood: 0.5</tspan></text></g>
<g id="n62"><ellipse class="m" cx="782" cy="983" rx="37" ry="9"/><text x="782" y="980"><tspan x="782">55: RULE 10 (Access a host through a log-in service)</tspan><tspan x="782" dy="4">Rank: 0.00389</tspan><tspan x="782" dy="4">Dsmp: 1.0 Likelihood: 1.0</tspan></text></g>
<g id="n63"><polygon class="m" points="731,1018 782,1005 833,1018 782,1031"/><text x="782" y="1015"><tspan x="782">56: logInService(webServer,tcp,sshPort)</tspan><tspan x="782" dy="4">Rank: 0.00396</tspan><tspan x="782" dy="4">Dsmp: 1.0 Likelihood: 0.0</tspan></text></g>
<g id="n64"><polygon class="m" points="854,1018 902,1005 950,1018 902,1031"/><text x="902" y="1015"><tspan x="902">57: netAccess(webServer,tcp,sshProtocol,sshPort)</tspan><tspan x="902" dy="4">Rank: 0.00384</tspan><tspan x="902" dy="4">Dsmp: 1.0 Likelihood: 0.0</tspan></text></g>
<g id="n65"><ellipse class="m" cx="703" cy="1048" rx="24" ry="9"/><text x="703" y="1045"><tspan x="703">58: RULE 5 (multi-hop access)</tspan><tspan x="703" dy="4">Rank: 0.00374</tspan><tspan x="703" dy="4">Dsmp: 1.0 Likelihood: 0.5</tspan></text></g>
<g id="n66"><ellipse class="d" cx="877" cy="1052" rx="24" ry="9"/><text x="877" y="1049"><tspan x="877">59: RULE 5 (multi-hop access)</tspan><tspan x="877" dy="4">Rank: 0.00097</tspan><tspan x="877" dy="4">Dsmp: 1.0 Likelihood: 0.5</tspan></text></g>
<g id="n67"><ellipse class="d" cx="929" cy="1052" rx="24" ry="9"/><text x="929" y="1049"><tspan x="929">60: RULE 5 (multi-hop access)</tspan><tspan x="929" dy="4">Rank: 0.00097</tspan><tspan x="929" dy="4">Dsmp: 1.0 Likelihood: 0.5</tspan></text></g>
<g id="n68"><ellipse class="m" cx="985" cy="1052" rx="28" ry="9"/><text x="985" y="1049"><tspan x="985">61: RULE 6 (direct network access)</tspan><tspan x="985" dy="4">Rank: 0.00313</tspan><tspan x="985" dy="4">Dsmp: 1.0 Likelihood: 1.0</tspan></text></g>
<g id="n69"><ellipse class="d" cx="1043" cy="1052" rx="24" ry="9"/><text x="1043" y="1049"><tspan x="1043">62: RULE 5 (multi-hop access)</tspan><tspan x="1043" dy="4">Rank: 0.00092</tspan><tspan x="1043" dy="4">Dsmp: 1.0 Likelihood: 0.5</tspan></text></g>
<g id="n70"><rect class="d" x="851" y="1082" width="71" height="12"/><text x="886.5" y="1085"><tspan x="886.5">63: hacl(workStation,webServer,tcp,sshPort)</tspan><tspan x="886.5" dy="4">Rank: 0.00097</tspan><tspan x="886.5" dy="4">Dsmp: 1.0 Likelihood: 1.0</tspan></text></g>
<g id="n71"><rect class="d" x="1017" y="1082" width="68" height="12"/><text x="1051" y="1085"><tspan x="1051">64: hacl(dbServer,webServer,tcp,sshPort)</tspan><tspan x="1051" dy="4">Rank: 0.00092</tspan><tspan x="1051" dy="4">Dsmp: 1.0 Likelihood: 1.0</tspan></text></g>
<g id="n72"><ellipse class="m" cx="738" cy="1086" rx="20" ry="9"/><text x="738" y="1083"><tspan x="738">65: RULE 13 ()</tspan><tspan x="738" dy="4">Rank: 0.00396</tspan><tspan x="738" dy="4">Dsmp: 1.0 Likelihood: 1.0</tspan></text></g>
<g id="n73"><rect class="m" x="693" y="1113" width="92" height="12"/><text x="739" y="1116"><tspan x="739">66: networkServiceInfo(webServer,sshd,tcp,sshProtocol,sshPort)</tspan><tspan x="739" dy="4">Rank: 0.00396</tspan><tspan x="739" dy="4">Dsmp: 1.0 Likelihood: 1.0</tspan></text></g>
<g id="n74"><rect class="m" x="890" y="1112" width="63" height="12"/><text x="921.5" y="1115"><tspan x="921.5">67: hacl(internet,webServer,tcp,sshPort)</tspan><tspan x="921.5" dy="4">Rank: 0.00313</tspan><tspan x="921.5" dy="4">Dsmp: 1.0 Likelihood: 1.0</tspan></text></g>
<g id="n75"><polygon class="r" points="445,1088 490,1075 535,1088 490,1101"/><text x="490" y="1085"><tspan x="490">68: execCode(workStation,root)</tspan><tspan x="490" dy="4">Rank: 0.01309</tspan><tspan x="490" dy="4">Dsmp: 1.0 Likelihood: 0.5</tspan></text></g>
<g id="n76"><ellipse class="d" cx="378" cy="1122" rx="73" ry="10"/><text x="378" y="1119"><tspan x="378">69: RULE 8 (When a principal is compromised any machine he has an account on will also be compromised)</tspan><tspan x="378" dy="4">Rank: 0.00164</tspan><tspan x="378" dy="4">Dsmp: 1.0 Likelihood: 0.5</tspan></text></g>
<g id="n77"><ellipse class="or" cx="489" cy="1123" rx="36" ry="10"/><text x="489" y="1120"><tspan x="489">70: RULE 2 (remote exploit of a client program)</tspan><tspan x="489" dy="4">Rank: 0.00977</tspan><tspan x="489" dy="4">Dsmp: 1.0 Likelihood: 0.5</tspan></text></g>
<g id="n78"><polygon class="p" points="268,1148 316,1135 364,1148 316,1161"/><text x="316" y="1145"><tspan x="316">71: principalCompromised(workStationUser)</tspan><tspan x="316" dy="4">Rank: 0.00270</tspan><tspan x="316" dy="4">Dsmp: 1.0 Likelihood: 0.5</tspan></text></g>
<g id="n79"><polygon class="d" points="184,1157 219,1144 254,1157 219,1170"/><text x="219" y="1154"><tspan x="219">72: execCode(dbServer,user)</tspan><tspan x="219" dy="4">Rank: 0.00071</tspan><tspan x="219" dy="4">Dsmp: 1.0 Likelihood: 0.5</tspan></text></g>
<g id="n80"><rect class="or" x="356" y="1165" width="47" height="12"/><text x="379.5" y="1168"><tspan x="379.5">73: isClientSoftware(ie)</tspan><tspan x="379.5" dy="4">Rank: 0.01046</tspan><tspan x="379.5" dy="4">Dsmp: 1.0 Likelihood: 1.0</tspan></text></g>
<g id="n81"><rect class="or" x="407" y="1165" width="102" height="12"/><text x="458" y="1168"><tspan x="458">74: vulExists(workStation,'CVE-2009-1918',ie,remoteExploit,privEscalation)</tspan><tspan x="458" dy="4">Rank: 0.01046</tspan><tspan x="458" dy="4">Dsmp: 1.0 Likelihood: 1.0</tspan></text></g>
<g id="n82"><polygon class="or" points="530,1171 573,1158 616,1171 573,1184"/><text x="573" y="1168"><tspan x="573">75: canAccessMaliciousInput(workStation,ie)</tspan><tspan x="573" dy="4">Rank: 0.01026</tspan><tspan x="573" dy="4">Dsmp: 1.0 Likelihood: 0.5</tspan></text></g>
<g id="n83"><ellipse class="d" cx="910" cy="1186" rx="25" ry="9"/><text x="910" y="1183"><tspan x="910">76: RULE 5 (multi-hop access)</tspan><tspan x="910" dy="4">Rank: 0.00098</tspan><tspan x="910" dy="4">Dsmp: 1.0 Likelihood: 0.5</tspan></text></g>
<g id="n84"><ellipse class="m" cx="110" cy="1201" rx="25" ry="9"/><text x="110" y="1198"><tspan x="110">77: RULE 10 (password sniffing)</tspan><tspan x="110" dy="4">Rank: 0.00327</tspan><tspan x="110" dy="4">Dsmp: 1.0 Likelihood: 0.5</tspan></text></g>
<g id="n85"><ellipse class="d" cx="189" cy="1193" rx="37" ry="9"/><text x="189" y="1190"><tspan x="189">78: RULE 7 (Access a host through a log-in service)</tspan><tspan x="189" dy="4">Rank: 0.00071</tspan><tspan x="189" dy="4">Dsmp: 1.0 Likelihood: 1.0</tspan></text></g>
<g id="n86"><ellipse class="m" cx="322" cy="1201" rx="25" ry="9"/><text x="322" y="1198"><tspan x="322">79: RULE 10 (password sniffing)</tspan><tspan x="322" dy="4">Rank: 0.00327</tspan><tspan x="322" dy="4">Dsmp: 1.0 Likelihood: 0.5</tspan></text></g>
<g id="n87"><ellipse class="p" cx="382" cy="1201" rx="24" ry="9"/><text x="382" y="1198"><tspan x="382">80: RULE 11 (password sniffing)</tspan><tspan x="382" dy="4">Rank: 0.00260</tspan><tspan x="382" dy="4">Dsmp: 1.0 Likelihood: 0.5</tspan></text></g>
<g id="n88"><rect class="p" x="7" y="1226" width="86" height="12"/><text x="50" y="1229"><tspan x="50">170: hasAccount(workStationUser,dbServer,user)</tspan><tspan x="50" dy="4">Rank: 0.00250</tspan><tspan x="50" dy="4">Dsmp: 1.0 Likelihood: 1.0</tspan></text></g>
<g id="n89"><ellipse class="d" cx="283" cy="1215" rx="46" ry="10"/><text x="283" y="1212"><tspan x="283">82: RULE 7 (Access a host through executing code on the machine)</tspan><tspan x="283" dy="4">Rank: 0.00164</tspan><tspan x="283" dy="4">Dsmp: 1.0 Likelihood: 1.0</tspan></text></g>
<g id="n90"><ellipse class="d" cx="446" cy="1208" rx="33" ry="9"/><text x="446" y="1205"><tspan x="446">83: RULE 21 (Browsing a compromised website)</tspan><tspan x="446" dy="4">Rank: 0.00073</tspan><tspan x="446" dy="4">Dsmp: 1.0 Likelihood: 0.4</tspan></text></g>
<g id="n91"><ellipse class="y" cx="594" cy="1206" rx="32" ry="9"/><text x="594" y="1203"><tspan x="594">84: RULE 21 (Browsing a malicious website)</tspan><tspan x="594" dy="4">Rank: 0.01374</tspan><tspan x="594" dy="4">Dsmp: 1.0 Likelihood: 1.0</tspan></text></g>
<g id="n92"><ellipse class="d" cx="522" cy="1206" rx="34" ry="9"/><text x="522" y="1203"><tspan x="522">85: RULE 21 (Browsing a compromised website)</tspan><tspan x="522" dy="4">Rank: 0.00075</tspan><tspan x="522" dy="4">Dsmp: 1.0 Likelihood: 0.4</tspan></text></g>
<g id="n93"><ellipse class="d" cx="664" cy="1206" rx="34" ry="9"/><text x="664" y="1203"><tspan x="664">86: RULE 21 (Browsing a compromised website)</tspan><tspan x="664" dy="4">Rank: 0.00075</tspan><tspan x="664" dy="4">Dsmp: 1.0 Likelihood: 0.4</tspan></text></g>
<g id="n94"><ellipse class="p" cx="736" cy="1207" rx="34" ry="9"/><text x="736" y="1204"><tspan x="736">87: RULE 21 (Browsing a compromised website)</tspan><tspan x="736" dy="4">Rank: 0.00276</tspan><tspan x="736" dy="4">Dsmp: 1.0 Likelihood: 0.4</tspan></text></g>
<g id="n95"><ellipse class="d" cx="810" cy="1205" rx="34" ry="9"/><text x="810" y="1202"><tspan x="810">88: RULE 21 (Browsing a compromised website)</tspan><tspan x="810" dy="4">Rank: 0.00075</tspan><tspan x="810" dy="4">Dsmp: 1.0 Likelihood: 0.4</tspan></text></g>
<g id="n96"><rect class="r" x="318" y="1236" width="85" height="12"/><text x="360.5" y="1239"><tspan x="360.5">89: hasAccount(workStationUser,workStation,user)</tspan><tspan x="360.5" dy="4">Rank: 0.01226</tspan><tspan x="360.5" dy="4">Dsmp: 1.0 Likelihood: 1.0</tspan></text></g>
<g id="n97"><polygon class="d" points="99,1244 146,1231 193,1244 146,1257"/><text x="146" y="1241"><tspan x="146">90: logInService(dbServer,tcp,sshPort)</tspan><tspan x="146" dy="4">Rank: 5e-05</tspan><tspan x="146" dy="4">Dsmp: 1.0 Likelihood: 0.0</tspan></text></g>
<g id="n98"><polygon class="d" points="198,1244 242,1231 286,1244 242,1257"/><text x="242" y="1241"><tspan x="242">91: netAccess(dbServer,tcp,sshPort)</tspan><tspan x="242" dy="4">Rank: 5e-05</tspan><tspan x="242" dy="4">Dsmp: 1.0 Likelihood: 0.0</tspan></text></g>
<g id="n99"><rect class="d" x="383" y="1256" width="70" height="12"/><text x="418" y="1259"><tspan x="418">92: hacl(workStation,webServer,tcp,httpPort)</tspan><tspan x="418" dy="4">Rank: 0.00073</tspan><tspan x="418" dy="4">Dsmp: 1.0 Likelihood: 1.0</tspan></text></g>
<g id="n100"><rect class="d" x="470" y="1253" width="68" height="12"/><text x="504" y="1256"><tspan x="504">93: hacl(workStation,fileServer,tcp,httpPort)</tspan><tspan x="504" dy="4">Rank: 0.00075</tspan><tspan x="504" dy="4">Dsmp: 1.0 Likelihood: 1.0</tspan></text></g>
<g id="n101"><rect class="o" x="547" y="1251" width="66" height="12"/><text x="580" y="1254"><tspan x="580">94: hacl(workStation,internet,tcp,httpPort)</tspan><tspan x="580" dy="4">Rank: 0.00774</tspan><tspan x="580" dy="4">Dsmp: 1.0 Likelihood: 1.0</tspan></text></g>
<g id="n102"><rect class="r" x="616" y="1251" width="46" height="12"/><text x="639" y="1254"><tspan x="639">95: isWebBrowser(ie)</tspan><tspan x="639" dy="4">Rank: 0.01183</tspan><tspan x="639" dy="4">Dsmp: 1.0 Likelihood: 1.0</tspan></text></g>
<g id="n103"><rect class="r" x="665" y="1251" width="37" height="12"/><text x="683.5" y="1254"><tspan x="683.5">96: inCompetent(user)</tspan><tspan x="683.5" dy="4">Rank: 0.01183</tspan><tspan x="683.5" dy="4">Dsmp: 1.0 Likelihood: 1.0</tspan></text></g>
<g id="n104"><rect class="d" x="708" y="1255" width="69" height="12"/><text x="742.5" y="1258"><tspan x="742.5">97: hacl(workStation,dbServer,tcp,httpPort)</tspan><tspan x="742.5" dy="4">Rank: 0.00075</tspan><tspan x="742.5" dy="4">Dsmp: 1.0 Likelihood: 1.0</tspan></text></g>
<g id="n105"><rect class="d" x="785" y="1252" width="70" height="12"/><text x="820" y="1255"><tspan x="820">98: hacl(workStation,adminstation,tcp,httpPort)</tspan><tspan x="820" dy="4">Rank: 0.00075</tspan><tspan x="820" dy="4">Dsmp: 1.0 Likelihood: 1.0</tspan></text></g>
<g id="n106"><rect class="y" x="862" y="1254" width="70" height="13"/><text x="897" y="1257.5"><tspan x="897">99: hacl(workStation,attackerLocation,tcp,httpPort)</tspan><tspan x="897" dy="4">Rank: 0.01378</tspan><tspan x="897" dy="4">Dsmp: 1.0 Likelihood: 1.0</tspan></text></g>
<g id="n107"><rect class="r" x="948" y="1250" width="40" height="12"/><text x="968" y="1253"><tspan x="968">100: isClient(ie)</tspan><tspan x="968" dy="4">Rank: 0.01183</tspan><tspan x="968" dy="4">Dsmp: 1.0 Likelihood: 1.0</tspan></text></g>
<g id="n108"><ellipse class="d" cx="75" cy="1281" rx="21" ry="9"/><text x="75" y="1278"><tspan x="75">101: RULE 13 ()</tspan><tspan x="75" dy="4">Rank: 0.00001</tspan><tspan x="75" dy="4">Dsmp: 1.0 Likelihood: 1.0</tspan></text></g>
<g id="n109"><ellipse class="d" cx="142" cy="1279" rx="24" ry="9"/><text x="142" y="1276"><tspan x="142">102: RULE 5 (multi-hop access)</tspan><tspan x="142" dy="4">Rank: 5e-05</tspan><tspan x="142" dy="4">Dsmp: 1.0 Likelihood: 0.5</tspan></text></g>
<g id="n110"><ellipse class="d" cx="210" cy="1279" rx="21" ry="9"/><text x="210" y="1276"><tspan x="210">103: RULE 5 (multi-hop)</tspan><tspan x="210" dy="4">Rank: 5e-05</tspan><tspan x="210" dy="4">Dsmp: 1.0 Likelihood: 0.5</tspan></text></g>
<g id="n111"><ellipse class="d" cx="262" cy="1278" rx="24" ry="9"/><text x="262" y="1275"><tspan x="262">104: RULE 5 (multi-hop access)</tspan><tspan x="262" dy="4">Rank: 5e-05</tspan><tspan x="262" dy="4">Dsmp: 1.0 Likelihood: 0.5</tspan></text></g>
<g id="n112"><ellipse class="d" cx="1068" cy="1277" rx="24" ry="9"/><text x="1068" y="1274"><tspan x="1068">105: RULE 5 (multi-hop access)</tspan><tspan x="1068" dy="4">Rank: 5e-05</tspan><tspan x="1068" dy="4">Dsmp: 1.0 Likelihood: 0.5</tspan></text></g>
<g id="n113"><rect class="d" x="18" y="1311" width="85" height="12"/><text x="60.5" y="1314"><tspan x="60.5">106: networkServiceInfo(dbServer,sshd,tcp,sshPort)</tspan><tspan x="60.5" dy="4">Rank: 0.00001</tspan><tspan x="60.5" dy="4">Dsmp: 1.0 Likelihood: 1.0</tspan></text></g>
<g id="n114"><rect class="d" x="108" y="1309" width="62" height="12"/><text x="139" y="1312"><tspan x="139">107: hacl(webServer,dbServer,tcp,sshPort)</tspan><tspan x="139" dy="4">Rank: 5e-05</tspan><tspan x="139" dy="4">Dsmp: 1.0 Likelihood: 1.0</tspan></text></g>
<g id="n115"><rect class="d" x="175" y="1309" width="65" height="13"/><text x="207.5" y="1312.5"><tspan x="207.5">108: hacl(fileServer,dbServer,tcp,sshPort)</tspan><tspan x="207.5" dy="4">Rank: 5e-05</tspan><tspan x="207.5" dy="4">Dsmp: 1.0 Likelihood: 1.0</tspan></text></g>
<g id="n116"><rect class="d" x="247" y="1308" width="62" height="12"/><text x="278" y="1311"><tspan x="278">109: hacl(workStation,dbServer,tcp,sshPort)</tspan><tspan x="278" dy="4">Rank: 5e-05</tspan><tspan x="278" dy="4">Dsmp: 1.0 Likelihood: 1.0</tspan></text></g>
<g id="n117"><rect class="d" x="1023" y="1306" width="66" height="12"/><text x="1056" y="1309"><tspan x="1056">110: hacl(internet,dbServer,tcp,sshPort)</tspan><tspan x="1056" dy="4">Rank: 5e-05</tspan><tspan x="1056" dy="4">Dsmp: 1.0 Likelihood: 1.0</tspan></text></g>
<g id="n118"><polygon class="m" points="385,1310 419,1297 453,1310 419,1323"/><text x="419" y="1307"><tspan x="419">111: execCode(fileServer,user)</tspan><tspan x="419" dy="4">Rank: 0.00374</tspan><tspan x="419" dy="4">Dsmp: 0.5 Likelihood: 0.4</tspan></text></g>
<g id="n119"><polygon class="m" points="931,1314 962,1301 993,1314 962,1327"/><text x="962" y="1311"><tspan x="962">112: execCode(internet,user)</tspan><tspan x="962" dy="4">Rank: 0.00314</tspan><tspan x="962" dy="4">Dsmp: 0.511 Likelihood: 0.4</tspan></text></g>
<g id="n120"><ellipse class="d" cx="1040" cy="1348" rx="30" ry="9"/><text x="1040" y="1345"><tspan x="1040">113: RULE 4 (Trojan horse installation)</tspan><tspan x="1040" dy="4">Rank: 0.00111</tspan><tspan x="1040" dy="4">Dsmp: 1.0 Likelihood: 0.4</tspan></text></g>
<g id="n121"><ellipse class="m" cx="826" cy="1344" rx="29" ry="9"/><text x="826" y="1341"><tspan x="826">114: RULE 4 (Trojan horse installation)</tspan><tspan x="826" dy="4">Rank: 0.00281</tspan><tspan x="826" dy="4">Dsmp: 1.0 Likelihood: 0.4</tspan></text></g>
<g id="n122"><polygon class="m" points="945,1378 996,1365 1047,1378 996,1391"/><text x="996" y="1375"><tspan x="996">115: accessFile(fileServer,write,'/usr/local/share')</tspan><tspan x="996" dy="4">Rank: 0.00292</tspan><tspan x="996" dy="4">Dsmp: 1.0 Likelihood: 0.4</tspan></text></g>
<g id="n123"><ellipse class="m" cx="1078" cy="1406" rx="22" ry="9"/><text x="1078" y="1403"><tspan x="1078">116: RULE 17 (NFS semantics)</tspan><tspan x="1078" dy="4">Rank: 0.00311</tspan><tspan x="1078" dy="4">Dsmp: 1.0 Likelihood: 1.0</tspan></text></g>
<g id="n124"><rect class="m" x="1030" y="1427" width="89" height="12"/><text x="1074.5" y="1430"><tspan x="1074.5">117: nfsMounted(workStation,'/usr/local/share',fileServer,'/export',read)</tspan><tspan x="1074.5" dy="4">Rank: 0.00311</tspan><tspan x="1074.5" dy="4">Dsmp: 1.0 Likelihood: 1.0</tspan></text></g>
</svg>
